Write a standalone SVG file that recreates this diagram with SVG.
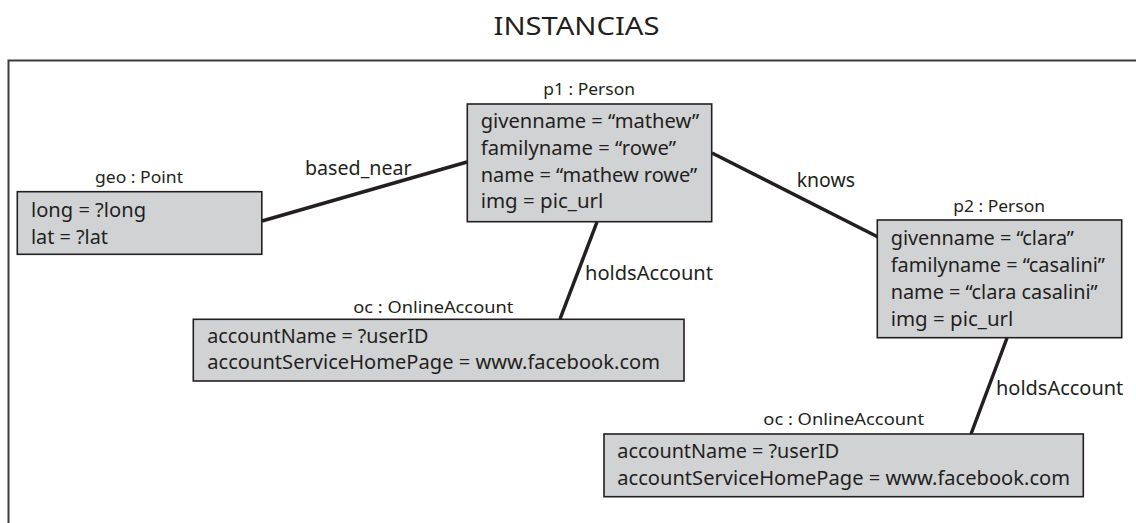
<svg xmlns="http://www.w3.org/2000/svg" width="1136" height="523" viewBox="0 0 1136 523">
  <style>
    text { font-family: "Noto Sans", "Open Sans", "Liberation Sans", sans-serif; fill: #231f20; }
    .title { font-size: 26px; }
    .attr { font-size: 20.5px; }
    .obj { font-size: 17px; text-anchor: start; }
    .rel { font-size: 20.5px; }
    .box { fill: #d1d2d4; stroke: #231f20; stroke-width: 1.6; }
    .frame { fill: none; stroke: #3c3c3c; stroke-width: 2; }
    .link { stroke: #231f20; stroke-width: 3.5; stroke-linecap: butt; fill: none; }
  </style>

  <!-- title and frame -->
  <text class="title" x="493.5" y="35" textLength="166" lengthAdjust="spacingAndGlyphs">INSTANCIAS</text>
  <path class="frame" d="M1136,60.5 H8.5 V523"/>

  <!-- connectors -->
  <g id="connectors">
    <line class="link" x1="262" y1="221" x2="467" y2="162"/>
    <line class="link" x1="712" y1="153" x2="878" y2="237"/>
    <line class="link" x1="597" y1="222" x2="560" y2="319"/>
    <line class="link" x1="1007" y1="338" x2="971" y2="434"/>
    <text class="rel" x="305" y="175" textLength="106.7" lengthAdjust="spacingAndGlyphs">based_near</text>
    <text class="rel" x="796.7" y="186.7" textLength="58.3" lengthAdjust="spacingAndGlyphs">knows</text>
    <text class="rel" x="585" y="280" textLength="128" lengthAdjust="spacingAndGlyphs">holdsAccount</text>
    <text class="rel" x="996" y="395" textLength="127.3" lengthAdjust="spacingAndGlyphs">holdsAccount</text>
  </g>

  <!-- geo : Point -->
  <g id="geo">
    <text class="obj" x="95" y="183" textLength="88" lengthAdjust="spacingAndGlyphs">geo : Point</text>
    <rect class="box" x="17.3" y="191.7" width="244.5" height="62.6"/>
    <text class="attr" x="31" y="216.7" textLength="115" lengthAdjust="spacingAndGlyphs">long = ?long</text>
    <text class="attr" x="31" y="244" textLength="77" lengthAdjust="spacingAndGlyphs">lat = ?lat</text>
  </g>

  <!-- p1 : Person -->
  <g id="p1">
    <text class="obj" x="543.3" y="95" textLength="91.7" lengthAdjust="spacingAndGlyphs">p1 : Person</text>
    <rect class="box" x="467.3" y="104" width="244.4" height="117.7"/>
    <text class="attr" x="480.7" y="128.3" textLength="218.6" lengthAdjust="spacingAndGlyphs">givenname = “mathew”</text>
    <text class="attr" x="480.7" y="155" textLength="195.3" lengthAdjust="spacingAndGlyphs">familyname = “rowe”</text>
    <text class="attr" x="480.7" y="181.7" textLength="216.6" lengthAdjust="spacingAndGlyphs">name = “mathew rowe”</text>
    <text class="attr" x="480.7" y="208.3" textLength="122.6" lengthAdjust="spacingAndGlyphs">img = pic_url</text>
  </g>

  <!-- p2 : Person -->
  <g id="p2">
    <text class="obj" x="953.3" y="212" textLength="91.7" lengthAdjust="spacingAndGlyphs">p2 : Person</text>
    <rect class="box" x="877.3" y="220" width="244.4" height="117.7"/>
    <text class="attr" x="890.7" y="245" textLength="183.3" lengthAdjust="spacingAndGlyphs">givenname = “clara”</text>
    <text class="attr" x="890.7" y="271.7" textLength="214.3" lengthAdjust="spacingAndGlyphs">familyname = “casalini”</text>
    <text class="attr" x="890.7" y="299" textLength="207" lengthAdjust="spacingAndGlyphs">name = “clara casalini”</text>
    <text class="attr" x="890.7" y="325.7" textLength="122.6" lengthAdjust="spacingAndGlyphs">img = pic_url</text>
  </g>

  <!-- oc : OnlineAccount (p1) -->
  <g id="oc1">
    <text class="obj" x="353.3" y="313" textLength="160" lengthAdjust="spacingAndGlyphs">oc : OnlineAccount</text>
    <rect class="box" x="193.3" y="319.3" width="490.7" height="61.7"/>
    <text class="attr" x="207.3" y="342.7" textLength="221" lengthAdjust="spacingAndGlyphs">accountName = ?userID</text>
    <text class="attr" x="207.3" y="369.3" textLength="452.7" lengthAdjust="spacingAndGlyphs">accountServiceHomePage = www.facebook.com</text>
  </g>

  <!-- oc : OnlineAccount (p2) -->
  <g id="oc2">
    <text class="obj" x="763.3" y="425" textLength="160.7" lengthAdjust="spacingAndGlyphs">oc : OnlineAccount</text>
    <rect class="box" x="604" y="434" width="479.3" height="62.7"/>
    <text class="attr" x="617.3" y="458.3" textLength="222" lengthAdjust="spacingAndGlyphs">accountName = ?userID</text>
    <text class="attr" x="617.3" y="485" textLength="452.7" lengthAdjust="spacingAndGlyphs">accountServiceHomePage = www.facebook.com</text>
  </g>
</svg>
